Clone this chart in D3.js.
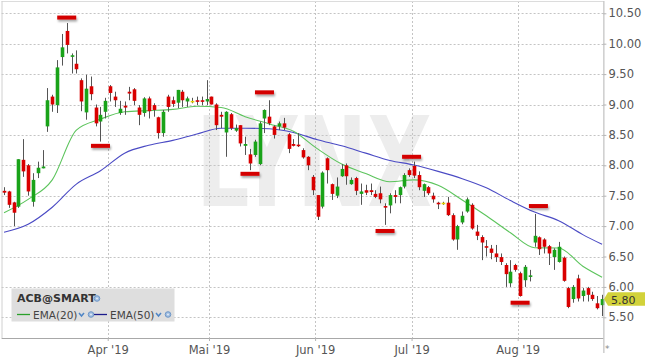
<!DOCTYPE html>
<html><head><meta charset="utf-8">
<script src="https://cdn.jsdelivr.net/npm/d3@7"></script>
<style>
body{margin:0;background:#fff;}
svg{display:block;font-family:"DejaVu Sans",Verdana,sans-serif;}
</style>
</head><body>
<svg id="c" width="645" height="358"></svg>
<script>
// ---- data ----
const dates = ["02-28",
"03-01","03-04","03-05","03-06","03-07","03-08","03-11","03-12","03-13","03-14","03-15","03-18","03-19","03-20","03-21","03-22","03-25","03-26","03-27","03-28","03-29",
"04-01","04-02","04-03","04-04","04-05","04-08","04-09","04-10","04-11","04-12","04-15","04-16","04-17","04-18","04-22","04-23","04-24","04-25","04-26","04-29","04-30",
"05-01","05-02","05-03","05-06","05-07","05-08","05-09","05-10","05-13","05-14","05-15","05-16","05-17","05-20","05-21","05-22","05-23","05-24","05-28","05-29","05-30","05-31",
"06-03","06-04","06-05","06-06","06-07","06-10","06-11","06-12","06-13","06-14","06-17","06-18","06-19","06-20","06-21","06-24","06-25","06-26","06-27","06-28",
"07-01","07-02","07-03","07-05","07-08","07-09","07-10","07-11","07-12","07-15","07-16","07-17","07-18","07-19","07-22","07-23","07-24","07-25","07-26","07-29","07-30","07-31",
"08-01","08-02","08-05","08-06","08-07","08-08","08-09","08-12","08-13","08-14","08-15","08-16","08-19","08-20","08-21","08-22","08-23","08-26"];

const open = [7.58,7.57,7.39,7.32,8.09,8.00,7.40,7.87,7.95,8.64,9.13,8.99,9.78,10.21,9.79,9.67,9.40,8.87,9.30,8.95,8.72,8.88,
9.30,9.13,8.86,8.98,9.21,9.25,8.95,8.86,9.10,8.99,8.79,8.53,9.13,9.07,9.03,9.21,9.05,9.06,9.07,9.07,9.05,
9.13,9.00,8.83,8.54,8.84,8.57,8.66,8.32,8.18,8.17,8.02,8.77,8.80,8.64,8.64,8.69,8.51,8.35,8.34,8.25,8.14,7.81,
7.51,7.32,8.115,7.69,7.50,7.82,8.00,7.69,7.79,7.53,7.59,7.59,7.53,7.54,7.33,7.34,7.51,7.51,7.65,7.92,
7.99,7.84,7.58,7.64,7.50,7.385,7.385,7.385,7.18,6.78,7.06,7.24,7.35,6.91,6.82,6.67,6.63,6.55,6.49,6.36,6.06,6.36,
6.225,6.11,6.165,6.73,6.816,6.78,6.67,6.49,6.41,6.48,5.98,5.80,6.14,5.85,5.98,5.87,5.73,5.70];

const high = [7.64,7.58,7.40,8.10,8.43,8.02,7.87,8.06,8.25,9.27,9.16,9.73,10.16,10.34,9.84,9.89,9.43,9.49,9.46,9.00,8.96,9.11,
9.32,9.21,9.06,9.05,9.29,9.27,8.99,9.12,9.13,9.02,8.80,8.91,9.16,9.13,9.24,9.24,9.13,9.11,9.13,9.13,9.40,
9.13,9.02,8.88,8.89,8.86,8.67,8.66,8.47,8.27,8.42,8.72,8.92,9.07,8.66,8.72,8.78,8.53,8.43,8.53,8.28,8.15,7.84,
7.51,7.90,8.13,7.70,7.80,8.02,8.03,7.80,7.81,7.70,7.68,7.70,7.59,7.65,7.375,7.54,7.59,7.65,7.87,7.95,
8.06,7.90,7.70,7.66,7.55,7.40,7.40,7.48,7.21,7.02,7.24,7.47,7.375,7.02,6.85,6.77,6.69,6.69,6.55,6.39,6.44,6.38,
6.25,6.36,6.28,7.20,6.83,6.80,6.69,6.635,6.74,6.50,6.00,6.03,6.20,5.98,6.00,5.92,5.85,5.87];

const low = [7.51,7.30,7.00,7.30,7.81,7.50,7.32,7.79,7.95,8.55,8.88,8.86,9.64,9.84,9.51,9.51,8.89,8.75,9.07,8.64,8.39,8.77,
9.05,8.96,8.83,8.83,9.07,8.99,8.66,8.80,8.77,8.80,8.44,8.47,8.88,8.96,8.94,8.96,8.96,9.02,8.99,8.99,8.99,
9.00,8.58,8.61,8.14,8.58,8.55,8.31,8.17,7.92,8.14,8.00,8.53,8.66,8.44,8.58,8.58,8.20,8.31,8.30,8.11,7.92,7.51,
7.10,7.29,7.70,7.43,7.46,7.81,7.68,7.68,7.51,7.35,7.51,7.51,7.46,7.375,7.02,7.21,7.375,7.375,7.62,7.81,
7.79,7.59,7.48,7.51,7.385,7.28,7.35,7.165,6.76,6.61,7.03,7.22,6.94,6.77,6.44,6.50,6.455,6.41,6.36,6.00,6.00,6.25,
5.84,6.00,6.09,6.66,6.525,6.55,6.36,6.28,6.40,6.085,5.65,5.74,5.76,5.76,5.76,5.77,5.63,5.52];

const close = [7.55,7.35,7.22,8.10,7.90,7.57,7.76,7.96,7.98,9.07,9.00,9.61,9.94,9.98,9.81,9.58,9.05,9.26,9.17,8.69,8.83,9.06,
9.19,9.07,8.93,8.95,9.18,9.06,8.83,9.10,8.89,8.91,8.53,8.88,8.96,9.01,9.24,9.07,9.10,9.06,9.05,9.05,9.09,
9.00,8.66,8.80,8.88,8.61,8.61,8.36,8.35,8.03,8.39,8.69,8.91,8.69,8.50,8.69,8.62,8.27,8.32,8.32,8.13,8.00,7.59,
7.155,7.88,7.92,7.53,7.65,7.94,7.82,7.76,7.58,7.57,7.55,7.56,7.48,7.44,7.31,7.51,7.48,7.64,7.84,7.84,
7.83,7.64,7.69,7.54,7.44,7.36,7.385,7.18,6.78,7.00,7.17,7.44,6.96,6.84,6.73,6.65,6.56,6.49,6.41,6.21,6.25,6.28,
5.85,6.33,6.19,6.84,6.62,6.66,6.55,6.61,6.66,6.10,5.67,6.00,5.81,5.94,5.87,5.80,5.65,5.80];

// EMA values at every 5th session
const emaIdx = [0,5,10,15,20,25,30,35,40,45,50,55,60,65,70,75,80,85,90,95,100,105,110,115,120,124];
const ema20 = [7.22,7.44,7.76,8.58,8.76,8.88,8.90,8.92,8.97,8.95,8.80,8.68,8.56,8.27,8.02,7.865,7.73,7.76,7.67,7.43,7.17,6.89,6.645,6.64,6.34,6.16];
const ema50 = [6.90,7.03,7.31,7.69,7.91,8.20,8.33,8.41,8.515,8.61,8.61,8.60,8.54,8.42,8.32,8.20,8.08,8.005,7.90,7.78,7.63,7.42,7.23,7.09,6.86,6.70];

// swing markers (session index, price level)
const markIdx = [13, 20, 51, 54, 79, 84.5, 107, 110.8];
const markVal = [10.43, 8.32, 7.86, 9.20, 6.92, 8.14, 5.74, 7.33];

const yTicks = [5.5,6.0,6.5,7.0,7.5,8.0,8.5,9.0,9.5,10.0,10.5];
const monthStart = ["04-01","05-01","06-03","07-01","08-01"];
const monthLabels = ["Apr '19","Mai '19","Jun '19","Jul '19","Aug '19"];
const lastPrice = 5.80;
const symbol = "ACB@SMART";
const legendNames = ["EMA(20)","EMA(50)"];

// ---- drawing ----
const svg = d3.select("#c");
const P = {l:1.6, r:603.4, t:1, b:338};
const n = dates.length;
const xi = d3.scaleLinear().domain([0, n]).range([1.6, 604.5]);
const y = d3.scaleLinear().domain([5.5, 10.5]).range([317.3, 13.3]);
const cx = i => xi(i + 0.5);

const defs = svg.append("defs");
const f = defs.append("filter").attr("id","sh").attr("x","-20%").attr("y","-50%").attr("width","150%").attr("height","300%");
f.append("feDropShadow").attr("dx",1).attr("dy",2).attr("stdDeviation",1.2).attr("flood-color","#000").attr("flood-opacity",0.35);

// watermark
svg.append("text").attr("x",196).attr("y",206)
  .attr("font-family","'DejaVu Sans',sans-serif").attr("font-weight","bold")
  .attr("font-size",124).attr("fill","#ededed")
  .attr("textLength",236).attr("lengthAdjust","spacingAndGlyphs")
  .text("LYNX");

// grid
const grid = svg.append("g");
grid.selectAll("line.h").data(yTicks).join("line").attr("class","h")
  .attr("x1",P.l).attr("x2",P.r).attr("y1",d=>Math.round(y(d))+0.5).attr("y2",d=>Math.round(y(d))+0.5)
  .attr("stroke","#c4c4c4").attr("stroke-dasharray","2,2");
const msIdx = monthStart.map(d => dates.indexOf(d));
grid.selectAll("line.v").data(msIdx).join("line").attr("class","v")
  .attr("x1",d=>Math.round(xi(d))+0.5).attr("x2",d=>Math.round(xi(d))+0.5).attr("y1",P.t).attr("y2",P.b)
  .attr("stroke","#c4c4c4").attr("stroke-dasharray","2,2");

// frame
svg.append("line").attr("x1",P.l).attr("x2",P.r).attr("y1",1.5).attr("y2",1.5).attr("stroke","#dcdcdc");
svg.append("line").attr("x1",2).attr("x2",2).attr("y1",P.t).attr("y2",P.b).attr("stroke","#d0d0d0");

// EMA lines
const line = d3.line().x((d,k)=>cx(emaIdx[k])).y(d=>y(d)).curve(d3.curveMonotoneX);
svg.append("path").datum(ema50).attr("d",line).attr("fill","none").attr("stroke","#4a4ac4").attr("stroke-width",1.1);
svg.append("path").datum(ema20).attr("d",line).attr("fill","none").attr("stroke","#5cc45c").attr("stroke-width",1.1);

// candles
const idx = d3.range(n);
const col = i => close[i] > open[i] ? "#19a319" : (close[i] < open[i] ? "#d90000" : "#e6d200");
const cg = svg.append("g");
cg.selectAll("line.w").data(idx).join("line").attr("class","w")
  .attr("x1",i=>Math.round(cx(i))+0.5).attr("x2",i=>Math.round(cx(i))+0.5)
  .attr("y1",i=>y(high[i])).attr("y2",i=>y(low[i]))
  .attr("stroke","#555").attr("stroke-width",1);
cg.selectAll("rect.b").data(idx).join("rect").attr("class","b")
  .attr("x",i=>Math.round(cx(i))-1.3).attr("width",3.6)
  .attr("y",i=>y(Math.max(open[i],close[i])))
  .attr("height",i=>Math.max(1.6, Math.abs(y(open[i])-y(close[i]))))
  .attr("fill",col);

// markers
svg.append("g").selectAll("rect").data(markIdx).join("rect")
  .attr("x",(d)=>cx(d)-9.5).attr("width",19)
  .attr("y",(d,k)=>y(markVal[k])-2).attr("height",4)
  .attr("fill","#d40000").attr("filter","url(#sh)");

// axes
svg.append("line").attr("x1",P.l).attr("x2",P.r).attr("y1",P.b+0.5).attr("y2",P.b+0.5).attr("stroke","#a8a8a8");
svg.append("line").attr("x1",P.r+0.5).attr("x2",P.r+0.5).attr("y1",P.t).attr("y2",353).attr("stroke","#b4b4b4");

const yAxis = svg.append("g").attr("transform",`translate(${P.r},0)`)
  .call(d3.axisRight(y).tickValues(yTicks).tickFormat(d3.format(".2f")).tickSize(3).tickPadding(2));
yAxis.select(".domain").remove();
yAxis.selectAll("line").attr("stroke","#b4b4b4");
yAxis.selectAll("text").attr("fill","#555").attr("font-size","11.5px").attr("font-family","'DejaVu Sans',sans-serif");

const xAxis = svg.append("g").attr("transform",`translate(0,${P.b})`)
  .call(d3.axisBottom(xi).tickValues(msIdx).tickFormat((d,k)=>monthLabels[k]).tickSize(3).tickPadding(5));
xAxis.select(".domain").remove();
xAxis.selectAll("line").attr("stroke","#b4b4b4");
xAxis.selectAll("text").attr("fill","#555").attr("font-size","11.5px").attr("font-family","'DejaVu Sans',sans-serif");

svg.append("text").attr("x",605).attr("y",352).attr("font-size",9).attr("fill","#888").text("*");

// last price tag
const ly = y(lastPrice);
svg.append("path").attr("d",`M604,${ly} L608,${ly-6.8} L645,${ly-6.8} L645,${ly+6.8} L608,${ly+6.8} Z`).attr("fill","#d2d23a");
svg.append("text").attr("x",611).attr("y",ly+4.6).attr("font-size","11px").attr("fill","#333").text(d3.format(".2f")(lastPrice));

// legend
const lg = svg.append("g");
lg.append("rect").attr("x",11.5).attr("y",288.5).attr("width",163).attr("height",33).attr("fill","#dedede");
lg.append("text").attr("x",17).attr("y",302.3).attr("font-size","11px").attr("font-weight","bold").attr("fill","#333").text(symbol);
function gear(gx,gy){
  lg.append("circle").attr("cx",gx).attr("cy",gy).attr("r",2.8).attr("fill","#9fbde0").attr("stroke","#6f97c8").attr("stroke-width",1);
  lg.append("circle").attr("cx",gx).attr("cy",gy).attr("r",0.9).attr("fill","#e8eef7");
}
function chev(gx,gy){
  lg.append("path").attr("d",`M${gx-2.5},${gy-1.5} L${gx},${gy+1.5} L${gx+2.5},${gy-1.5}`).attr("fill","none").attr("stroke","#4f86c6").attr("stroke-width",1.5);
}
gear(97,298.5);
const lcol = ["#2aa02a","#1c1c8c"];
const lx = [17, 94];
legendNames.forEach((t,k)=>{
  lg.append("line").attr("x1",lx[k]).attr("x2",lx[k]+13).attr("y1",314.5).attr("y2",314.5).attr("stroke",lcol[k]).attr("stroke-width",1.3);
  lg.append("text").attr("x",lx[k]+16).attr("y",318.5).attr("font-size","10.5px").attr("fill","#444").text(t);
  chev(lx[k]+64.5,314.5);
  gear(lx[k]+74,314.5);
});
</script>
</body></html>
